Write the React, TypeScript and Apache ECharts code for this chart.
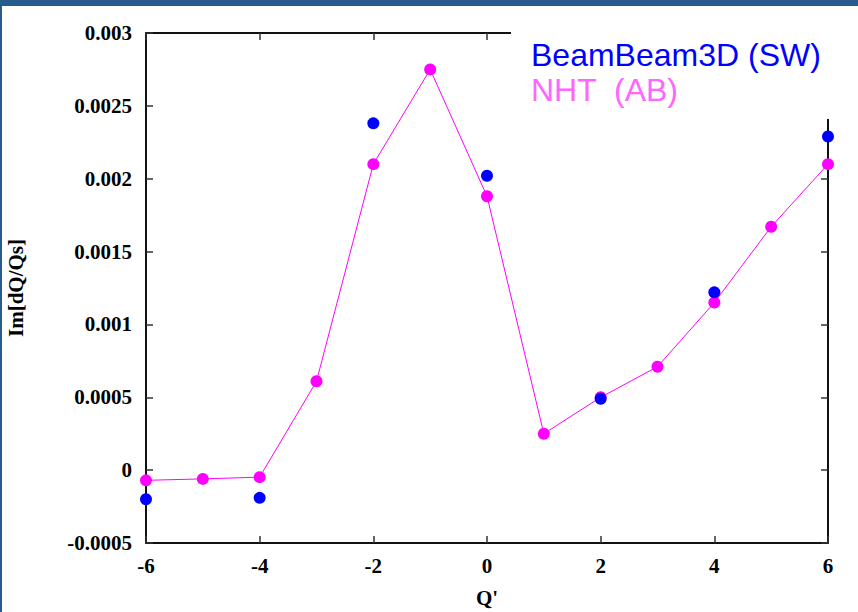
import React, { useEffect, useRef } from "react";
import * as echarts from "echarts";

const qNHT = [-6, -5, -4, -3, -2, -1, 0, 1, 2, 3, 4, 5, 6];
const imNHT = [-0.00007, -0.00006, -0.000048, 0.00061, 0.0021, 0.00275, 0.00188, 0.00025, 0.0005, 0.00071, 0.00115, 0.00167, 0.0021];
const qBB = [-6, -4, -2, 0, 2, 4, 6];
const imBB = [-0.0002, -0.00019, 0.00238, 0.00202, 0.00049, 0.00122, 0.00229];
const legendNames = ["BeamBeam3D (SW)", "NHT  (AB)"];

const fmt = (v: number) => String(parseFloat(v.toPrecision(6)));

export default function App() {
  const ref = useRef<HTMLDivElement>(null);
  useEffect(() => {
    const chart = echarts.init(ref.current!, null, { renderer: "svg" });
    const labelFont = { fontFamily: "Liberation Serif", fontWeight: "bold" as const, fontSize: 21, color: "#000" };
    const axisLine = { show: true, onZero: false, lineStyle: { color: "#111", width: 2 } };
    const axisTick = { show: true, inside: true, length: 7, lineStyle: { color: "#333", width: 1.5 } };
    chart.setOption({
      animation: false,
      backgroundColor: "#fff",
      grid: { left: 146, right: 30, top: 33, bottom: 69, containLabel: false, outerBoundsMode: "none" },
      xAxis: [
        {
          type: "value", min: -6, max: 6, interval: 2, position: "bottom",
          axisLine, axisTick, splitLine: { show: false },
          axisLabel: { ...labelFont, margin: 12, formatter: fmt },
          name: "Q'", nameLocation: "middle", nameGap: 44,
          nameTextStyle: { ...labelFont },
        },
        {
          type: "value", min: -6, max: 6, interval: 2, position: "top",
          axisLine, axisTick, splitLine: { show: false }, axisLabel: { show: false },
        },
      ],
      yAxis: [
        {
          type: "value", min: -0.0005, max: 0.003, interval: 0.0005, position: "left",
          axisLine, axisTick, splitLine: { show: false },
          axisLabel: { ...labelFont, margin: 14, formatter: fmt },
          name: "Im[dQ/Qs]", nameLocation: "middle", nameGap: 120, nameRotate: 90,
          nameTextStyle: { ...labelFont },
        },
        {
          type: "value", min: -0.0005, max: 0.003, interval: 0.0005, position: "right",
          axisLine, axisTick, splitLine: { show: false }, axisLabel: { show: false },
        },
      ],
      series: [
        {
          name: legendNames[1], type: "line",
          data: qNHT.map((q, i) => [q, imNHT[i]]),
          symbol: "circle", symbolSize: 12,
          lineStyle: { color: "#ff00ff", width: 1 },
          itemStyle: { color: "#ff00ff", opacity: 1 },
          z: 2,
        },
        {
          name: legendNames[0], type: "scatter",
          data: qBB.map((q, i) => [q, imBB[i]]),
          symbol: "circle", symbolSize: 12,
          itemStyle: { color: "#0000ff", opacity: 1 },
          z: 3,
        },
      ],
      graphic: [
        { type: "rect", z: 100, shape: { x: 511, y: 8, width: 330, height: 111 }, style: { fill: "#fff" } },
        { type: "text", z: 101, x: 531, y: 55, style: { text: legendNames[0], fill: "#0000ff", font: "32px 'Liberation Sans'", textVerticalAlign: "middle" } },
        { type: "text", z: 101, x: 531, y: 90, style: { text: legendNames[1], fill: "#ff66ff", font: "32px 'Liberation Sans'", textVerticalAlign: "middle" } },
        { type: "rect", z: 102, shape: { x: 0, y: 0, width: 858, height: 6 }, style: { fill: "#285c8e" } },
        { type: "rect", z: 102, shape: { x: 0, y: 0, width: 2, height: 612 }, style: { fill: "#285c8e" } },
      ],
    });
    return () => chart.dispose();
  }, []);
  return <div ref={ref} style={{ position: "fixed", left: 0, top: 0, width: 858, height: 612 }} />;
}
